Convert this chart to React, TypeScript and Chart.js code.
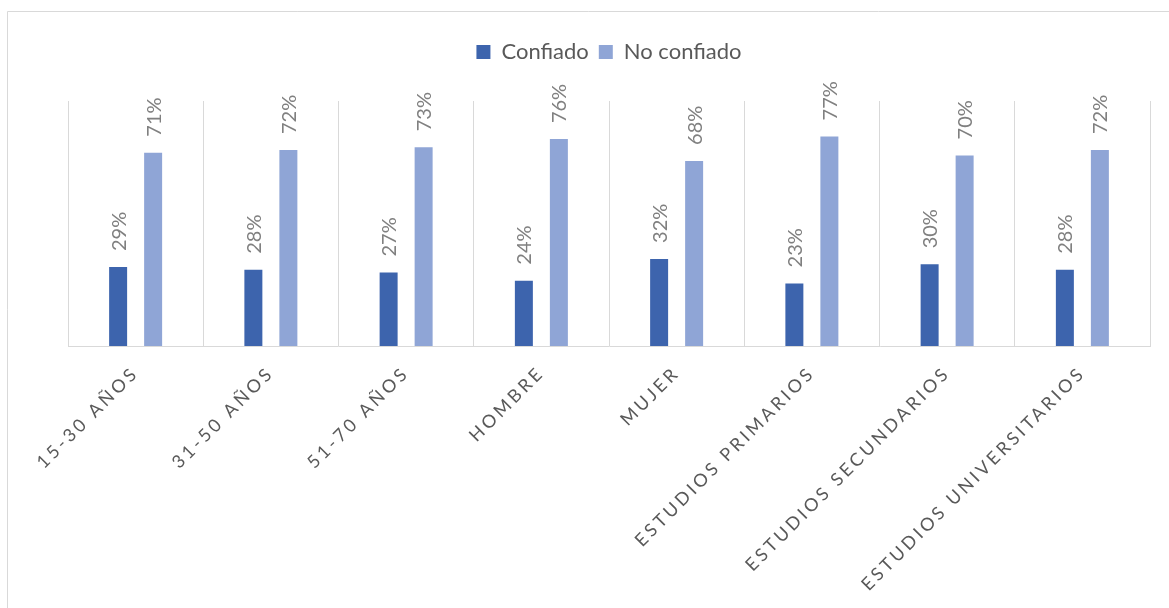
import React, { useEffect, useRef } from "react";
import { Chart, registerables, layouts } from "chart.js";

Chart.register(...registerables);

const categories = [
  "15-30 AÑOS",
  "31-50 AÑOS",
  "51-70 AÑOS",
  "HOMBRE",
  "MUJER",
  "ESTUDIOS PRIMARIOS",
  "ESTUDIOS SECUNDARIOS",
  "ESTUDIOS UNIVERSITARIOS",
];
const seriesNames = ["Confiado", "No confiado"];
const confiado = [29, 28, 27, 24, 32, 23, 30, 28];
const noConfiado = [71, 72, 73, 76, 68, 77, 70, 72];
const yAxisMax = 90;

const FONT = "Lato";

const spacerPlugin = {
  id: "legendSpacer",
  beforeInit(chart: any) {
    const box: any = {
      position: "top",
      weight: 0,
      fullSize: true,
      options: {},
      left: 0,
      top: 0,
      right: 0,
      bottom: 0,
      width: 0,
      height: 0,
      isHorizontal() {
        return true;
      },
      update(maxWidth: number) {
        this.width = maxWidth;
        this.height = 28;
      },
      draw() {},
    };
    layouts.addBox(chart, box);
  },
};

const framePlugin = {
  id: "frame",
  beforeDraw(chart: any) {
    const ctx = chart.ctx;
    ctx.save();
    ctx.fillStyle = "#ffffff";
    ctx.fillRect(0, 0, chart.width, chart.height);
    ctx.strokeStyle = "#d9d9d9";
    ctx.lineWidth = 1;
    ctx.beginPath();
    ctx.moveTo(7.5, chart.height);
    ctx.lineTo(7.5, 11.5);
    ctx.lineTo(chart.width, 11.5);
    ctx.stroke();
    ctx.restore();
  },
};

const valueLabelPlugin = {
  id: "valueLabels",
  afterDatasetsDraw(chart: any) {
    const ctx = chart.ctx;
    ctx.save();
    ctx.font = `20px ${FONT}`;
    ctx.fillStyle = "#808080";
    ctx.textAlign = "left";
    ctx.textBaseline = "middle";
    chart.data.datasets.forEach((ds: any, di: number) => {
      const meta = chart.getDatasetMeta(di);
      meta.data.forEach((bar: any, i: number) => {
        ctx.save();
        ctx.translate(bar.x + 1, bar.y - 16);
        ctx.rotate(-Math.PI / 2);
        ctx.fillText(`${ds.data[i]}%`, 0, 0);
        ctx.restore();
      });
    });
    ctx.restore();
  },
};

const xLabelPlugin = {
  id: "xLabels",
  afterDraw(chart: any) {
    const ctx = chart.ctx;
    const xs = chart.scales.x;
    ctx.save();
    ctx.font = `18px ${FONT}`;
    (ctx as any).letterSpacing = "3.2px";
    ctx.fillStyle = "#595959";
    ctx.textAlign = "right";
    ctx.textBaseline = "alphabetic";
    (chart.data.labels as string[]).forEach((label, i) => {
      const x = xs.getPixelForTick(i);
      ctx.save();
      ctx.translate(x + 4, xs.bottom + 28);
      ctx.rotate(-Math.PI / 4);
      ctx.fillText(label, 0, 0);
      ctx.restore();
    });
    ctx.restore();
  },
};

export default function App() {
  const ref = useRef<HTMLCanvasElement | null>(null);
  useEffect(() => {
    if (!ref.current) return;
    const chart = new Chart(ref.current, {
      type: "bar",
      data: {
        labels: categories,
        datasets: [
          {
            label: seriesNames[0],
            data: confiado,
            backgroundColor: "#3d64ad",
            categoryPercentage: 0.5176,
            barPercentage: 0.514,
          },
          {
            label: seriesNames[1],
            data: noConfiado,
            backgroundColor: "#8fa5d6",
            categoryPercentage: 0.5176,
            barPercentage: 0.514,
          },
        ],
      },
      options: {
        responsive: false,
        animation: false,
        devicePixelRatio: 1,
        layout: { padding: { left: 68, right: 19, top: 31, bottom: 262 } },
        plugins: {
          legend: {
            position: "top",
            labels: {
              boxWidth: 14,
              boxHeight: 14,
              padding: 10,
              color: "#595959",
              font: { family: FONT, size: 22 },
            },
          },
          tooltip: { enabled: false },
        },
        scales: {
          x: {
            grid: { display: true, color: "#d9d9d9", drawTicks: false, offset: true },
            border: { display: true, color: "#d9d9d9" },
            ticks: { display: false },
          },
          y: {
            display: false,
            min: 0,
            max: yAxisMax,
          },
        },
      },
      plugins: [spacerPlugin, framePlugin, valueLabelPlugin, xLabelPlugin],
    });
    return () => chart.destroy();
  }, []);
  return (
    <div
      style={{
        position: "fixed",
        left: 0,
        top: 0,
        width: 1169,
        height: 608,
        overflow: "hidden",
        background: "#fff",
      }}
    >
      <canvas ref={ref} width={1169} height={608} style={{ display: "block", width: 1169, height: 608 }} />
    </div>
  );
}
